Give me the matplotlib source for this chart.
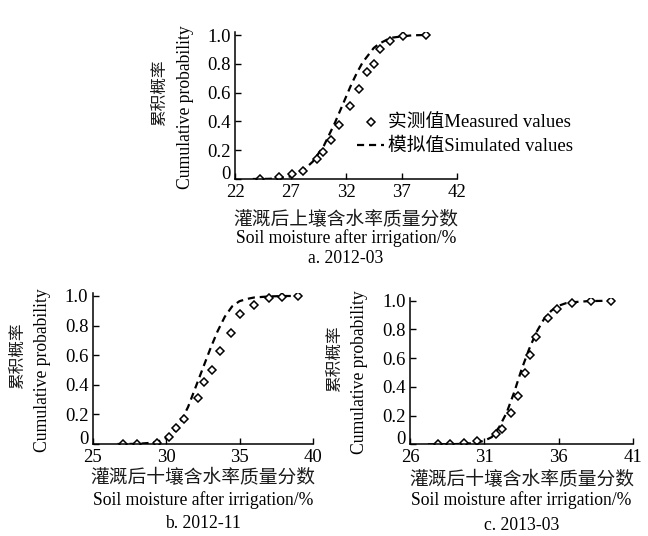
import matplotlib
matplotlib.use('Agg')
import matplotlib.pyplot as plt
from matplotlib.lines import Line2D

plt.rcParams['font.family'] = ['Liberation Serif', 'Noto Sans CJK SC']
plt.rcParams['axes.unicode_minus'] = False

W, H = 648, 536

# ---------------- data ----------------
# panel a: 2012-03
a_meas_x = [24.25, 26.0, 27.1, 28.1, 29.4, 29.9, 30.65, 31.4, 32.4, 33.2, 33.9, 34.5, 35.1, 36.0, 37.1, 39.2]
a_meas_p = [0.002, 0.014, 0.035, 0.058, 0.14, 0.19, 0.27, 0.377, 0.51, 0.627, 0.74, 0.80, 0.905, 0.96, 0.99, 1.0]
a_sim_x = [23.6, 25, 26, 27, 28, 29, 30, 30.5, 31, 31.5, 32, 32.5, 33, 33.5, 34, 34.5, 35, 35.5, 36, 37, 38, 39.2]
a_sim_p = [0.0, 0.001, 0.005, 0.018, 0.05, 0.12, 0.23, 0.31, 0.39, 0.48, 0.57, 0.66, 0.74, 0.81, 0.86, 0.91, 0.94, 0.96, 0.98, 0.99, 0.998, 1.0]
a_xticks = [22, 27, 32, 37, 42]

# panel b: 2012-11
b_meas_x = [27.1, 28.0, 29.4, 30.2, 30.7, 31.2, 32.2, 32.6, 33.1, 33.7, 34.45, 35.05, 35.96, 37.0, 37.9, 39.0]
b_meas_p = [0.0, 0.003, 0.01, 0.05, 0.11, 0.17, 0.31, 0.42, 0.50, 0.626, 0.75, 0.88, 0.94, 0.985, 0.99, 1.0]
b_sim_x = [26.7, 28, 29, 29.5, 30, 30.5, 31, 31.5, 32, 32.5, 33, 33.5, 34, 34.5, 35, 35.5, 36, 37, 38, 39]
b_sim_p = [0.0, 0.001, 0.008, 0.018, 0.04, 0.08, 0.15, 0.25, 0.38, 0.51, 0.64, 0.76, 0.86, 0.93, 0.965, 0.98, 0.99, 0.997, 1.0, 1.0]
b_xticks = [25, 30, 35, 40]

# panel c: 2013-03
c_meas_x = [27.9, 28.7, 29.6, 30.5, 31.8, 32.2, 32.8, 33.25, 33.75, 34.1, 34.5, 35.26, 35.9, 36.9, 38.15, 39.5]
c_meas_p = [0.0, 0.0, 0.007, 0.025, 0.07, 0.11, 0.215, 0.337, 0.50, 0.62, 0.75, 0.88, 0.94, 0.986, 0.995, 1.0]
c_sim_x = [27.2, 28.5, 29.5, 30, 30.5, 31, 31.5, 32, 32.5, 33, 33.5, 34, 34.5, 35, 35.5, 36, 36.5, 37, 38, 39.5]
c_sim_p = [0.0, 0.0, 0.003, 0.006, 0.012, 0.025, 0.05, 0.12, 0.22, 0.36, 0.52, 0.66, 0.78, 0.87, 0.93, 0.965, 0.983, 0.99, 0.997, 1.0]
c_xticks = [26, 31, 36, 41]

y_ticks = [0, 0.2, 0.4, 0.6, 0.8, 1.0]
y_ticklabels = ['0', '0.2', '0.4', '0.6', '0.8', '1.0']

ylabel_cn = '累积概率'
ylabel_en = 'Cumulative probability'
xlabel_en = 'Soil moisture after irrigation/%'
xlabel_cn = ['灌溉后上壤含水率质量分数', '灌溉后十壤含水率质量分数', '灌溉后十壤含水率质量分数']
titles = ['a. 2012-03', 'b. 2012-11', 'c. 2013-03']
legend_labels = ['实测值Measured values', '模拟值Simulated values']

fig = plt.figure(figsize=(W / 100, H / 100), dpi=100)

DASH = (0, (3.2, 2.2))
YTOP = 1.02
CN_COLOR = '#1a1a1a'


def fx(px):
    return px / W


def fy(py):
    return 1 - py / H


def make_panel(left, right, y0, y1, xticks, mx, mp, sx, sp, cn_label, title,
               cn_off, en_off, ti_off):
    ytop = y0 - YTOP * (y0 - y1)
    ax = fig.add_axes([fx(left), fy(y0), (right - left) / W, (y0 - ytop) / H])
    ax.plot(sx, sp, color='black', lw=1.6, linestyle=DASH)
    ax.plot(mx, mp, linestyle='none', marker='D', markersize=3.8,
            markerfacecolor='white', markeredgecolor='black', markeredgewidth=1.1)
    ax.set_xlim(xticks[0], xticks[-1])
    ax.set_ylim(0, YTOP)
    ax.set_xticks(xticks)
    ax.set_yticks(y_ticks)
    ax.set_yticklabels(y_ticklabels)
    for s in ['top', 'right']:
        ax.spines[s].set_visible(False)
    for s in ['left', 'bottom']:
        ax.spines[s].set_linewidth(1.1)
    ax.tick_params(direction='in', length=4, width=1.0, labelsize=13.5)
    ax.tick_params(axis='x', pad=3.5)
    ax.tick_params(axis='y', pad=3)
    ax.get_yticklabels()[0].set_verticalalignment('baseline')
    cx = (left + right) / 2
    fig.text(fx(cx), fy(y0 + cn_off), cn_label, ha='center', va='center',
             fontsize=13.5, family=['Noto Sans CJK SC'], color=CN_COLOR)
    fig.text(fx(cx), fy(y0 + en_off), xlabel_en, ha='center', va='center', fontsize=12.7)
    fig.text(fx(cx), fy(y0 + ti_off), title, ha='center', va='center', fontsize=12.7)
    ymid = (y0 + y1) / 2
    fig.text(fx(left - 50), fy(ymid), ylabel_en, ha='center', va='center',
             rotation=90, fontsize=12.7)
    fig.text(fx(left - 75), fy(ymid - 14), ylabel_cn, ha='center', va='center',
             rotation=90, fontsize=12, family=['Noto Sans CJK SC'], color=CN_COLOR)
    return ax


ax_a = make_panel(235, 457, 179, 35, a_xticks, a_meas_x, a_meas_p, a_sim_x, a_sim_p,
                  xlabel_cn[0], titles[0], 41, 59, 80)
ax_b = make_panel(92.5, 313, 444, 296, b_xticks, b_meas_x, b_meas_p, b_sim_x, b_sim_p,
                  xlabel_cn[1], titles[1], 34, 56, 79)
ax_c = make_panel(410, 633, 444.3, 300.7, c_xticks, c_meas_x, c_meas_p, c_sim_x, c_sim_p,
                  xlabel_cn[2], titles[2], 35, 56, 81)

handles = [
    Line2D([], [], linestyle='none', marker='D', markersize=3.8, markerfacecolor='white',
           markeredgecolor='black', markeredgewidth=1.1),
    Line2D([], [], color='black', lw=1.6, linestyle=DASH),
]
fig.legend(handles, legend_labels, loc='upper left',
           bbox_to_anchor=(fx(357), fy(115)), frameon=False, fontsize=13.5,
           handlelength=1.45, handletextpad=0.2, labelspacing=0.32, borderpad=0,
           borderaxespad=0)

fig.savefig('out.png', dpi=100)
